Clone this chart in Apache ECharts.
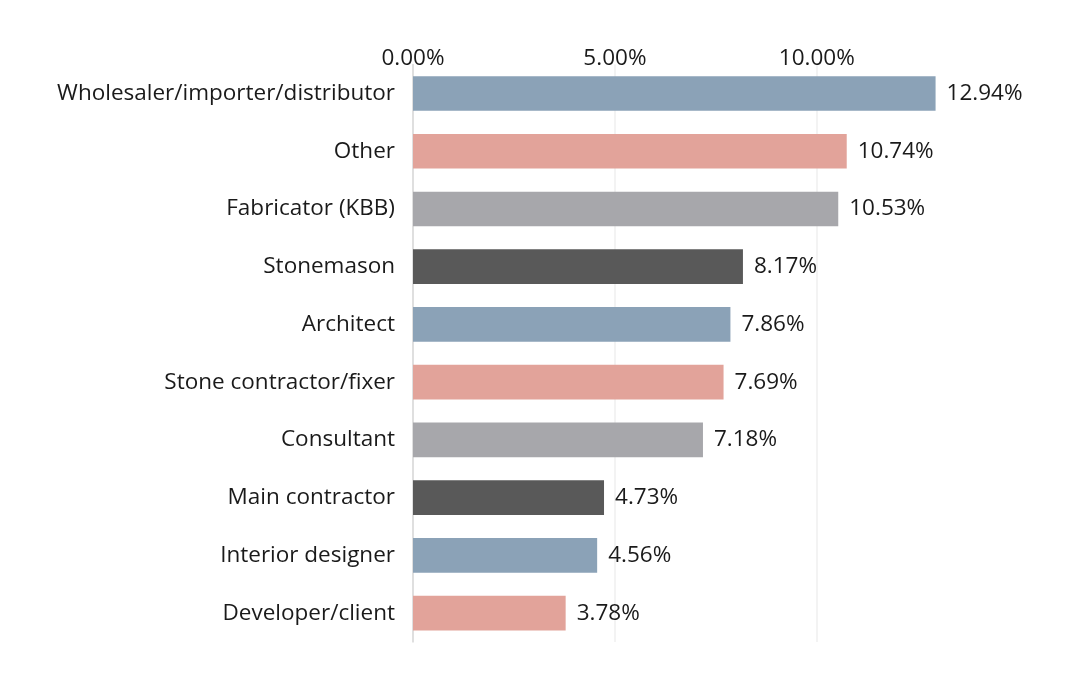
<!DOCTYPE html>
<html>
<head>
<meta charset="utf-8">
<script src="https://cdn.jsdelivr.net/npm/echarts@6/dist/echarts.min.js"></script>
<style>
  html, body { margin: 0; padding: 0; background: #fff; }
  #chart { width: 1079px; height: 673px; }
</style>
</head>
<body>
<div id="chart"></div>
<script>
// categories, top to bottom
const categories = [
  'Wholesaler/importer/distributor',
  'Other',
  'Fabricator (KBB)',
  'Stonemason',
  'Architect',
  'Stone contractor/fixer',
  'Consultant',
  'Main contractor',
  'Interior designer',
  'Developer/client'
]
// share of respondents, %
const shares = [12.94, 10.74, 10.53, 8.17, 7.86, 7.69, 7.18, 4.73, 4.56, 3.78]
const palette = ['#8BA2B7', '#E2A39A', '#A7A7AB', '#595959']

const FONT = 'Open Sans'
const SIZE = 22.5

const chart = echarts.init(document.getElementById('chart'))
chart.setOption({
  animation: false,
  grid: { left: 413, right: 141, top: 64.6, bottom: 31 },
  xAxis: {
    type: 'value',
    position: 'top',
    min: 0,
    max: 13,
    interval: 5,
    axisLine: { show: false },
    axisTick: { show: false },
    axisLabel: {
      margin: -5,
      fontFamily: FONT,
      fontSize: SIZE,
      color: '#1a1a1a',
      formatter: v => (v % 5 === 0 ? v.toFixed(2) + '%' : '')
    },
    splitLine: {
      lineStyle: { color: ['#EFEFEF', '#EFEFEF', '#EFEFEF', 'rgba(0,0,0,0)'], width: 1.5 }
    }
  },
  yAxis: {
    type: 'category',
    inverse: true,
    data: categories,
    axisLine: { lineStyle: { color: '#D9D9D9', width: 1.5 } },
    axisTick: { show: false },
    axisLabel: {
      margin: 18,
      fontFamily: FONT,
      fontSize: SIZE,
      color: '#1a1a1a',
      padding: [7, 0, 0, 0]
    }
  },
  series: [{
    type: 'bar',
    barWidth: '60%',
    data: shares.map((v, i) => ({ value: v, itemStyle: { color: palette[i % palette.length] } })),
    label: {
      show: true,
      position: 'right',
      distance: 11,
      fontFamily: FONT,
      fontSize: SIZE,
      color: '#1a1a1a',
      padding: [7, 0, 0, 0],
      formatter: p => p.value.toFixed(2) + '%'
    }
  }]
})
</script>
</body>
</html>
